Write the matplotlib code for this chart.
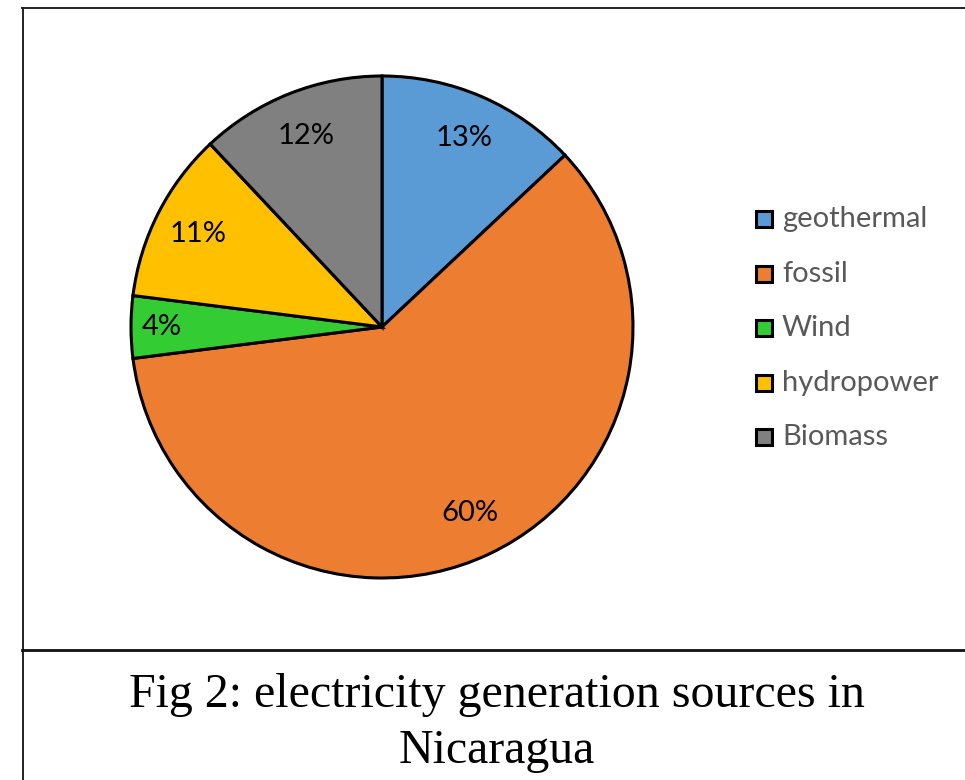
import matplotlib
matplotlib.use("Agg")
import matplotlib.pyplot as plt
from matplotlib.patches import Rectangle
from matplotlib.lines import Line2D

# Electricity generation mix, Nicaragua (share of total, %)
sources = ["geothermal", "fossil", "Wind", "hydropower", "Biomass"]
shares = [13, 60, 4, 11, 12]
colors = ["#5B9BD5", "#ED7D31", "#33CC33", "#FFC000", "#808080"]
caption_lines = ["Fig 2: electricity generation sources in", "Nicaragua"]

W, H = 965, 780
fig = plt.figure(figsize=(W / 100, H / 100), dpi=100)
fig.patch.set_facecolor("white")

def fx(px):
    return px / W

def fy(py):
    return 1 - py / H

# frame around chart and caption
frame_kw = dict(color="#222222", lw=1.4, transform=fig.transFigure)
fig.add_artist(Line2D([fx(22), fx(W)], [fy(8), fy(8)], **frame_kw))
fig.add_artist(Line2D([fx(22.5), fx(22.5)], [fy(8), fy(H)], **frame_kw))
fig.add_artist(Line2D([fx(22), fx(W)], [fy(650), fy(650)], color="#111111", lw=2.0,
                      transform=fig.transFigure))

# pie
cx, cy, r = 382, 327, 251
ax = fig.add_axes([fx(cx - r), fy(cy + r), 2 * r / W, 2 * r / H])
wedges, texts, autotexts = ax.pie(
    shares, colors=colors, startangle=90, counterclock=False,
    autopct=lambda p: f"{p:.0f}%", pctdistance=0.82,
    wedgeprops=dict(edgecolor="black", linewidth=2.2),
    textprops=dict(fontsize=21, family="Lato", color="black"),
)
for t in autotexts:
    if t.get_text() == "4%":
        x, y = t.get_position()
        t.set_position((x * 1.07, y * 1.07))
ax.set_xlim(-1, 1)
ax.set_ylim(-1, 1)
ax.axis("off")

# legend
row0, step = 219, 54.5
for i, (name, col) in enumerate(zip(sources, colors)):
    yc = row0 + i * step
    fig.add_artist(Rectangle((fx(756), fy(yc + 8)), 16 / W, 16 / H,
                             facecolor=col, edgecolor="black", lw=2.2,
                             transform=fig.transFigure))
    fig.text(fx(782), fy(yc), name, fontsize=21, family="Lato", color="#595959",
             va="center", ha="left")

# caption
fig.text(fx(496.5), fy(707), caption_lines[0], fontsize=34.5, family="Liberation Serif",
         ha="center", va="baseline", color="black")
fig.text(fx(496.5), fy(763), caption_lines[1], fontsize=34.5, family="Liberation Serif",
         ha="center", va="baseline", color="black")

fig.savefig("out.png", dpi=100, facecolor="white")
